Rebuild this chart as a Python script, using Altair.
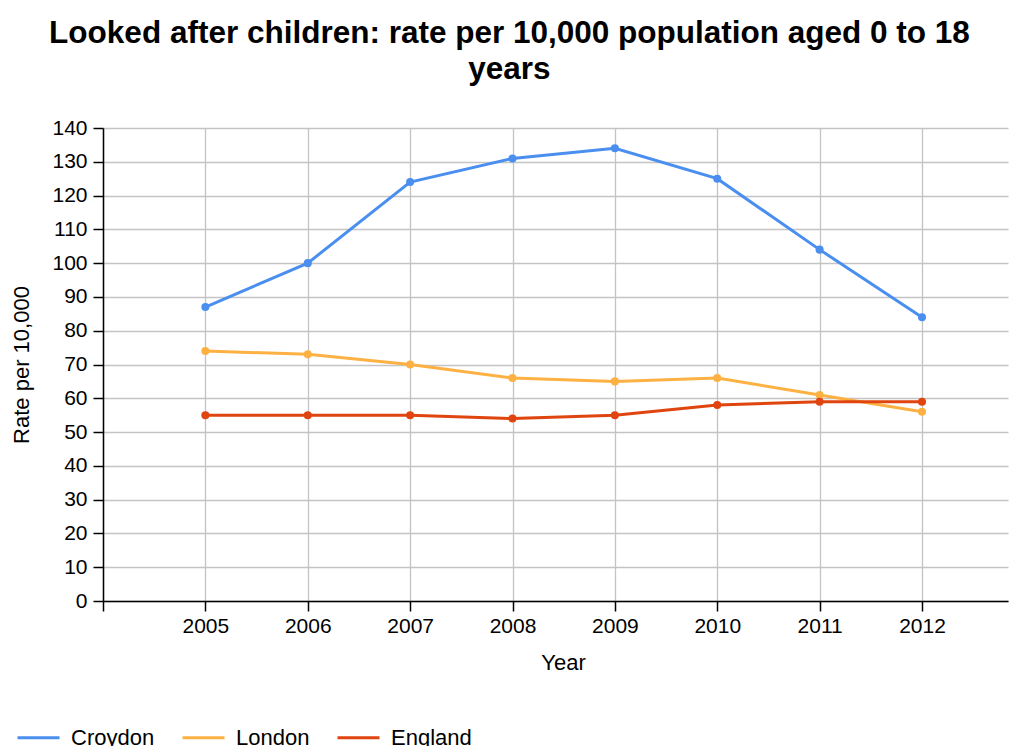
import altair as alt
import pandas as pd

years = [2005, 2006, 2007, 2008, 2009, 2010, 2011, 2012]
croydon = [87, 100, 124, 131, 134, 125, 104, 84]
london = [74, 73, 70, 66, 65, 66, 61, 56]
england = [55, 55, 55, 54, 55, 58, 59, 59]

series_names = ["Croydon", "London", "England"]
series_colors = ["#4a8ff0", "#fdb143", "#e0450f"]

rows = []
for name, vals in zip(series_names, [croydon, london, england]):
    for y, v in zip(years, vals):
        rows.append({"Year": y, "Rate": v, "Area": name})
df = pd.DataFrame(rows)

FONT = "Liberation Sans"

chart = alt.Chart(df).mark_line(
    point=alt.OverlayMarkDef(filled=True, size=65), strokeWidth=3
).encode(
    x=alt.X("Year:Q",
            scale=alt.Scale(domain=[2004, 2012.84], nice=False, zero=False),
            axis=alt.Axis(values=[2004] + years, format="d",
                          labelExpr="datum.value == 2004 ? '' : datum.label",
                          title="Year", titlePadding=16, labelPadding=4,
                          titleX=460)),
    y=alt.Y("Rate:Q",
            scale=alt.Scale(domain=[0, 140], nice=False),
            axis=alt.Axis(values=list(range(0, 141, 10)), title="Rate per 10,000",
                          titlePadding=18, labelPadding=6)),
    color=alt.Color("Area:N",
                    scale=alt.Scale(domain=series_names, range=series_colors),
                    sort=series_names,
                    legend=alt.Legend(title=None, orient="none", direction="horizontal",
                                      legendX=-87, legendY=587, symbolType="stroke",
                                      symbolSize=1764, symbolStrokeWidth=3,
                                      labelFontSize=22, labelFont=FONT, labelColor="#000",
                                      columnPadding=21, labelOffset=10)),
).properties(
    width=905, height=473,
    title=alt.TitleParams(
        ["Looked after children: rate per 10,000 population aged 0 to 18", "years"],
        font=FONT, fontSize=31.5, fontWeight="bold", color="#000",
        anchor="middle", frame="bounds", offset=32, lineHeight=36),
    autosize=alt.AutoSizeParams(type="none"),
    padding={"left": 95, "top": 120, "right": 2, "bottom": 145},
).configure_view(
    stroke=None
).configure_axis(
    labelFont=FONT, labelFontSize=21, labelColor="#000",
    titleFont=FONT, titleFontSize=22, titleColor="#000", titleFontWeight="normal",
    domainColor="#000", domainWidth=1.5, tickColor="#000", tickWidth=1.5, tickSize=10,
    gridColor="#c4c4c4", gridWidth=1.3
)

chart.save("out.html", embed_options={"renderer": "svg", "actions": False})
